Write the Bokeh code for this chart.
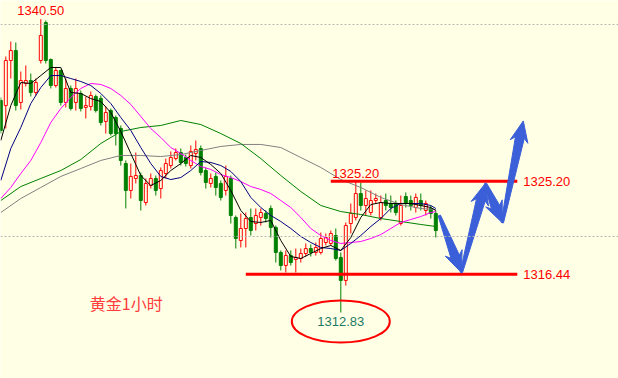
import math
from bokeh.plotting import figure
from bokeh.models import Range1d, Span
from bokeh.embed import file_html
from bokeh.resources import INLINE
from bokeh.core.properties import value

# ---------------- data (gold, 1-hour candles) ----------------
opens = [1332.83, 1332.35, 1336.60, 1337.54, 1332.64, 1334.43, 1334.71, 1333.58, 1336.60, 1340.18,
         1336.69, 1334.24, 1335.66, 1332.64, 1333.96, 1332.64, 1333.49, 1332.17, 1332.26, 1333.20,
         1333.02, 1330.85, 1331.88, 1331.22, 1330.19, 1326.88, 1324.34, 1325.47, 1325.75, 1323.20,
         1324.81, 1325.47, 1324.52, 1325.94, 1326.69, 1327.35, 1327.92, 1327.45, 1326.69, 1327.83,
         1328.30, 1326.22, 1325.00, 1325.66, 1325.00, 1324.34, 1325.47, 1321.79, 1319.62, 1320.75,
         1321.79, 1321.22, 1321.79, 1322.17, 1322.64, 1320.85, 1318.49, 1317.26, 1318.20, 1317.83,
         1317.92, 1318.39, 1318.86, 1318.49, 1318.49, 1319.43, 1319.34, 1320.09, 1318.02, 1315.85,
         1321.22, 1321.79, 1324.05, 1322.92, 1322.26, 1323.39, 1321.79, 1323.39, 1323.11, 1323.11,
         1321.22, 1323.77, 1323.39, 1322.73, 1323.39, 1322.45, 1322.64, 1322.17]
closes = [1330.00, 1336.60, 1337.54, 1332.35, 1334.71, 1334.71, 1333.58, 1334.52, 1338.96, 1336.60,
          1334.24, 1335.66, 1332.64, 1333.96, 1332.07, 1333.96, 1332.07, 1332.35, 1333.30, 1331.88,
          1330.75, 1331.69, 1329.71, 1329.71, 1327.17, 1324.34, 1325.66, 1325.75, 1323.39, 1325.00,
          1325.47, 1324.34, 1326.22, 1326.88, 1327.45, 1327.92, 1326.98, 1326.88, 1328.02, 1328.20,
          1326.03, 1325.09, 1325.47, 1324.62, 1323.68, 1325.66, 1321.98, 1319.81, 1320.75, 1321.69,
          1320.56, 1321.98, 1322.26, 1321.69, 1320.85, 1318.49, 1317.26, 1318.20, 1317.54, 1318.02,
          1318.39, 1318.86, 1318.49, 1318.96, 1319.81, 1319.90, 1320.28, 1317.92, 1315.85, 1321.03,
          1322.17, 1324.05, 1322.92, 1323.58, 1323.39, 1323.58, 1323.20, 1322.92, 1322.73, 1322.26,
          1322.92, 1323.11, 1322.92, 1323.68, 1322.92, 1323.11, 1322.17, 1320.56]
highs = [1333.11, 1336.98, 1338.39, 1338.30, 1335.56, 1336.13, 1335.37, 1334.90, 1340.50, 1340.37,
         1336.79, 1335.94, 1335.75, 1334.90, 1334.24, 1334.90, 1333.77, 1333.20, 1333.68, 1333.39,
         1333.30, 1332.26, 1332.07, 1331.41, 1330.47, 1327.17, 1326.88, 1327.92, 1326.03, 1325.47,
         1325.94, 1325.75, 1326.51, 1327.35, 1328.02, 1328.30, 1328.30, 1327.73, 1328.58, 1329.05,
         1328.58, 1326.51, 1325.94, 1326.03, 1325.28, 1326.69, 1325.75, 1321.98, 1322.17, 1322.26,
         1322.64, 1322.64, 1322.64, 1322.45, 1322.92, 1321.03, 1318.68, 1318.68, 1318.68, 1318.86,
         1318.86, 1319.34, 1319.24, 1319.43, 1320.37, 1320.28, 1320.56, 1320.75, 1318.49, 1321.32,
         1323.11, 1325.20, 1325.09, 1324.34, 1324.34, 1324.05, 1323.86, 1324.05, 1323.86, 1323.39,
         1323.86, 1324.15, 1323.86, 1324.05, 1324.05, 1323.39, 1322.92, 1322.45]
lows = [1329.71, 1330.19, 1334.90, 1331.88, 1331.98, 1334.15, 1333.20, 1333.30, 1336.32, 1336.32,
        1333.96, 1334.05, 1332.35, 1332.17, 1331.88, 1331.88, 1331.79, 1331.13, 1331.88, 1331.69,
        1330.47, 1329.71, 1329.52, 1328.58, 1326.69, 1322.64, 1323.58, 1325.00, 1322.45, 1322.92,
        1324.52, 1323.86, 1323.58, 1325.47, 1326.41, 1327.17, 1326.69, 1326.60, 1326.41, 1327.17,
        1325.75, 1324.52, 1324.62, 1323.86, 1323.39, 1323.86, 1321.22, 1318.86, 1318.96, 1318.96,
        1320.09, 1320.56, 1321.03, 1321.32, 1319.90, 1317.54, 1316.79, 1316.60, 1317.26, 1316.60,
        1317.54, 1318.11, 1318.11, 1318.20, 1318.30, 1319.15, 1319.15, 1317.73, 1312.83, 1315.37,
        1320.28, 1321.51, 1322.45, 1321.98, 1321.98, 1323.11, 1321.51, 1322.45, 1322.26, 1321.98,
        1321.03, 1322.73, 1322.45, 1322.26, 1322.45, 1321.98, 1321.69, 1319.90]

# moving averages (candle index, value)
ma_fast_idx = list(range(0, 88, 2)) + [87]
ma_black = [1329.05, 1332.35, 1334.52, 1334.43, 1335.18, 1335.94, 1335.94, 1333.58, 1333.49, 1333.01,
            1332.73, 1331.69, 1329.90, 1327.83, 1325.75, 1324.81, 1325.28, 1326.22, 1326.88, 1327.64,
            1327.45, 1326.79, 1325.94, 1324.34, 1322.45, 1321.41, 1321.32, 1321.51, 1319.62, 1318.11,
            1317.92, 1318.39, 1318.86, 1319.15, 1318.68, 1319.90, 1321.79, 1323.01, 1323.20, 1323.11,
            1323.11, 1323.11, 1322.92, 1322.73, 1322.45]
ma_navy = [1325.28, 1328.30, 1330.28, 1332.54, 1334.05, 1335.18, 1335.18, 1334.90, 1334.62, 1334.24,
           1333.49, 1332.54, 1331.22, 1330.00, 1328.39, 1326.88, 1325.66, 1325.37, 1325.56, 1326.22,
           1327.07, 1326.98, 1326.69, 1326.13, 1325.18, 1323.68, 1322.73, 1321.98, 1321.41, 1320.75,
           1320.00, 1319.43, 1318.96, 1318.86, 1318.68, 1319.34, 1320.09, 1320.94, 1321.69, 1322.64,
           1323.11, 1323.11, 1323.11, 1322.92, 1322.64]
ma_magenta = [1323.58, 1324.62, 1325.94, 1327.17, 1328.86, 1330.75, 1332.07, 1333.11, 1333.96, 1334.43,
              1334.34, 1333.96, 1333.30, 1332.45, 1331.32, 1330.18, 1329.34, 1328.39, 1327.83, 1327.17,
              1326.60, 1326.32, 1325.84, 1325.56, 1325.18, 1324.71, 1324.43, 1324.05, 1323.39, 1322.73,
              1321.79, 1320.75, 1320.09, 1319.62, 1319.34, 1319.43, 1319.52, 1319.81, 1320.18, 1320.75,
              1321.32, 1321.60, 1321.88, 1322.26, 1322.35]
ma_slow_idx = list(range(0, 88, 4)) + [87]
ma_green = [1323.39, 1324.71, 1325.47, 1326.22, 1327.26, 1328.77, 1329.90, 1330.28, 1330.47, 1330.94,
            1330.56, 1329.71, 1328.77, 1327.35, 1325.75, 1324.24, 1322.92, 1322.35, 1322.07, 1321.69,
            1321.41, 1321.13, 1320.94]
ma_gray = [1322.26, 1323.58, 1324.62, 1325.66, 1326.41, 1327.17, 1327.64, 1327.64, 1327.54, 1327.73,
           1328.11, 1328.49, 1328.68, 1328.68, 1328.39, 1327.45, 1326.51, 1325.37, 1324.62, 1323.68,
           1323.01, 1322.64, 1322.54]

grid_levels = [1320.0, 1340.0]
resistance = 1325.20
support = 1316.44
level_start_idx = [66.0, 49.0]
level_end_idx = 103.3
title_text = "黄金1小时"
forecast_idx = [87.7, 92.1, 96.9, 100.3, 104.5]
forecast_price = [1321.98, 1316.60, 1325.00, 1321.30, 1330.90]

# ---------------- figure ----------------
BG = "#FFFFE6"
W, H = 618, 378
X0, X1 = -0.06, 123.54
Y0, Y1 = 1306.60, 1342.26
RED = "#FF0000"
GREEN = "#008000"

p = figure(width=W, height=H, x_range=Range1d(X0, X1), y_range=Range1d(Y0, Y1),
           output_backend="svg", toolbar_location=None, min_border=0,
           x_axis_location=None, y_axis_location=None)
p.xgrid.visible = False
p.ygrid.visible = False
p.outline_line_color = None
p.background_fill_color = BG
p.border_fill_color = BG

for lv in grid_levels:
    p.add_layout(Span(location=lv, dimension="width", line_color="#B4B4B4",
                      line_width=1, line_dash="2 2"))

idx = list(range(len(opens)))
up = [i for i in idx if closes[i] >= opens[i]]
dn = [i for i in idx if closes[i] < opens[i]]

p.segment(x0=up, x1=up, y0=[highs[i] for i in up], y1=[lows[i] for i in up],
          line_color=RED, line_width=1)
p.vbar(x=up, width=0.6, top=[closes[i] for i in up], bottom=[opens[i] for i in up],
       fill_color=BG, line_color=RED, line_width=1)
p.segment(x0=dn, x1=dn, y0=[highs[i] for i in dn], y1=[lows[i] for i in dn],
          line_color=GREEN, line_width=1)
p.vbar(x=dn, width=0.6, top=[opens[i] for i in dn], bottom=[closes[i] for i in dn],
       fill_color=GREEN, line_color=GREEN, line_width=1)

p.line(ma_slow_idx, ma_gray, line_color="#808080", line_width=1)
p.line(ma_slow_idx, ma_green, line_color=GREEN, line_width=1)
p.line(ma_fast_idx, ma_magenta, line_color="#FF00FF", line_width=1)
p.line(ma_fast_idx, ma_navy, line_color="#000080", line_width=1)
p.line(ma_fast_idx, ma_black, line_color="#000000", line_width=1)

# key levels
p.segment(x0=level_start_idx, x1=[level_end_idx] * 2, y0=[resistance, support],
          y1=[resistance, support], line_color=RED, line_width=3)

num_font = value("Liberation Sans")
p.text(x=[level_end_idx + 1.2] * 2, y=[resistance, support],
       text=[f"{resistance:.2f}", f"{support:.2f}"], text_font=num_font,
       text_font_size="13px", text_color=RED, text_align="left", text_baseline="middle")
p.text(x=[71], y=[resistance + 0.7], text=[f"{resistance:.2f}"], text_font=num_font,
       text_font_size="13px", text_color=RED, text_align="center", text_baseline="middle")

hi_i = max(idx, key=lambda i: highs[i])
lo_i = min(idx, key=lambda i: lows[i])
p.text(x=[hi_i], y=[highs[hi_i] + 0.85], text=[f"{highs[hi_i]:.2f}"], text_font=num_font,
       text_font_size="13px", text_color=RED, text_align="center", text_baseline="middle")

p.ellipse(x=[lo_i], y=[lows[lo_i] - 0.85], width=98, height=42, width_units="screen",
          height_units="screen", fill_color=None, line_color=RED, line_width=2)
p.text(x=[lo_i], y=[lows[lo_i] - 0.85], text=[f"{lows[lo_i]:.2f}"], text_font=num_font,
       text_font_size="13px", text_color="#1F7A64", text_align="center", text_baseline="middle")

p.text(x=[25.1], y=[1313.7], text=[title_text], text_font=value("Noto Sans CJK SC"),
       text_font_size="16px", text_color="#FF3B3B", text_align="center", text_baseline="middle")

# forecast zig-zag arrows
sx = W / (X1 - X0)
sy = H / (Y1 - Y0)


def arrow(a, b, w0=1.2, w1=4.5, hw=9.0, hl=17.0, sweep=4.0):
    ax, ay = a[0] * sx, a[1] * sy
    bx, by = b[0] * sx, b[1] * sy
    dx, dy = bx - ax, by - ay
    L = math.hypot(dx, dy)
    ux, uy = dx / L, dy / L
    nx, ny = -uy, ux
    hx, hy = bx - ux * hl, by - uy * hl
    bbx, bby = hx - ux * sweep, hy - uy * sweep
    pts = [(ax + nx * w0, ay + ny * w0), (hx + nx * w1, hy + ny * w1),
           (bbx + nx * hw, bby + ny * hw), (bx, by),
           (bbx - nx * hw, bby - ny * hw), (hx - nx * w1, hy - ny * w1),
           (ax - nx * w0, ay - ny * w0)]
    return [q[0] / sx for q in pts], [q[1] / sy for q in pts]


axs, ays = [], []
for k in range(len(forecast_idx) - 1):
    xs_, ys_ = arrow((forecast_idx[k], forecast_price[k]),
                     (forecast_idx[k + 1], forecast_price[k + 1]))
    axs.append(xs_)
    ays.append(ys_)
p.patches(axs, ays, fill_color="#3B5FD8", line_color="#3B5FD8", line_width=1)

open("out.html", "w").write(file_html(p, INLINE))
